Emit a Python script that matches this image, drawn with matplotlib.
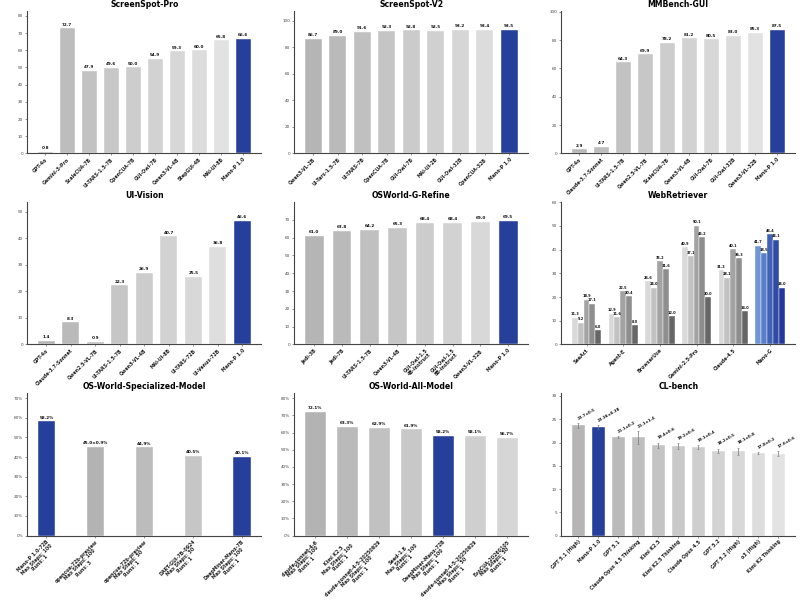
import numpy as np
import matplotlib
matplotlib.use("Agg")
import matplotlib.pyplot as plt
from matplotlib.ticker import FuncFormatter

# ---------------- data ----------------
sspro_labels = ["GPT-4o", "Gemini-3-Pro", "ScaleCUA-7B", "UI-TARS-1.5-7B", "OpenCUA-7B",
                "GUI-Owl-7B", "Qwen3-VL-4B", "StepGUI-4B", "MAI-UI-8B", "Mano-P 1.0"]
sspro_values = [0.8, 72.7, 47.9, 49.6, 50.0, 54.9, 59.3, 60.0, 65.8, 66.6]

ssv2_labels = ["Qwen3-VL-2B", "UI-Tars-1.5-7B", "UI-TARS-7B", "OpenCUA-7B", "GUI-Owl-7B",
               "MAI-UI-2B", "GUI-Owl-32B", "OpenCUA-32B", "Mano-P 1.0"]
ssv2_values = [86.7, 89.0, 91.6, 92.3, 92.8, 92.5, 93.2, 93.4, 93.5]

mmb_labels = ["GPT-4o", "Claude-3.7-Sonnet", "UI-TARS-1.5-7B", "Qwen2.5-VL-7B", "ScaleCUA-7B",
              "Qwen3-VL-4B", "GUI-Owl-7B", "GUI-Owl-32B", "Qwen3-VL-32B", "Mano-P 1.0"]
mmb_values = [2.9, 4.7, 64.3, 69.9, 78.2, 81.2, 80.5, 83.0, 85.3, 87.5]

uiv_labels = ["GPT-4o", "Claude-3.7-Sonnet", "Qwen2.5-VL-7B", "UI-TARS-1.5-7B", "Qwen3-VL-4B",
              "MAI-UI-8B", "UI-TARS-72B", "UI-Venus-72B", "Mano-P 1.0"]
uiv_values = [1.4, 8.3, 0.9, 22.3, 26.9, 40.7, 25.5, 36.8, 46.6]

osg_labels = ["Jedi-3B", "Jedi-7B", "UI-TARS-1.5-7B", "Qwen3-VL-4B", "GUI-Owl-1.5\n4B-Instruct",
              "GUI-Owl-1.5\n8B-Instruct", "Qwen3-VL-32B", "Mano-P 1.0"]
osg_values = [61.0, 63.8, 64.2, 65.3, 68.4, 68.4, 69.0, 69.5]

web_groups = ["SeeAct", "Agent-E", "BrowserUse", "Gemini-2.5-Pro", "Claude-4.5", "Mano-G"]
web_s1 = [11.3, 12.9, 26.6, 40.9, 31.3, 41.7]
web_s2 = [9.2, 11.6, 24.0, 37.1, 28.1, 38.5]
web_s3 = [18.9, 22.5, 35.2, 50.1, 40.1, 46.4]
web_s4 = [17.1, 20.4, 31.6, 45.2, 36.3, 44.1]
web_s5 = [6.0, 8.0, 12.0, 20.0, 14.0, 24.0]

spec_labels = ["Mano-P 1.0-72B\nMax Steps: 100\nRuns: 1",
               "opencua-72b-preview\nMax Steps: 100\nRuns: 3",
               "opencua-72b-preview\nMax Steps: 50\nRuns: 1",
               "DART-GUI-7B-0924\nMax Steps: 30\nRuns: 1",
               "DeepMiner-Mano-7B\nMax Steps: 100\nRuns: 1"]
spec_values = [58.2, 45.0, 44.9, 40.5, 40.1]
spec_text = ["58.2%", "45.0±0.9%", "44.9%", "40.5%", "40.1%"]

all_labels = ["claude-sonnet-4-6\nMax Steps: 100\nRuns: 1",
              "Kimi K2.5\nMax Steps: 100\nRuns: 1",
              "claude-sonnet-4-5-20250929\nMax Steps: 100\nRuns: 1",
              "Seed-1.8\nMax Steps: 100\nRuns: 1",
              "DeepMiner-Mano-72B\nMax Steps: 100\nRuns: 1",
              "claude-sonnet-4-5-20250929\nMax Steps: 50\nRuns: 1",
              "EvoCUA-20260105\nMax Steps: 50\nRuns: 1"]
all_values = [72.1, 63.3, 62.9, 61.9, 58.2, 58.1, 56.7]

cl_labels = ["GPT 5.1 (High)", "Mano-P 1.0", "GPT 5.1", "Claude Opus 4.5 Thinking", "Kimi K2.5",
             "Kimi K2.5 Thinking", "Claude Opus 4.5", "GPT 5.2", "GPT 5.2 (High)", "o3 (High)",
             "Kimi K2 Thinking"]
cl_values = [23.7, 23.36, 21.1, 21.1, 19.4, 19.2, 19.1, 18.2, 18.1, 17.8, 17.6]
cl_errors = [0.5, 0.38, 0.2, 1.4, 0.6, 0.6, 0.4, 0.5, 0.8, 0.2, 0.6]
cl_text = ["23.7±0.5", "23.36±0.38", "21.1±0.2", "21.1±1.4", "19.4±0.6", "19.2±0.6",
           "19.1±0.4", "18.2±0.5", "18.1±0.8", "17.8±0.2", "17.6±0.6"]

# ---------------- style ----------------
BLUE = "#253F9B"
TITLE_FS = 5.6
TICK_FS = 3.0
XT_FS = 3.4
VAL_FS = 3.0


def greys(n, start, end):
    vals = np.linspace(start, end, n)
    return ["#%02x%02x%02x" % (int(v), int(v), int(v)) for v in vals]


def colors_with_blue(n, blue_idx, start, end):
    g = greys(n - len(blue_idx), start, end)
    out, k = [], 0
    for i in range(n):
        if i in blue_idx:
            out.append(BLUE)
        else:
            out.append(g[k]); k += 1
    return out


def style_ax(ax, title):
    ax.set_title(title, fontsize=TITLE_FS, fontweight="bold", pad=3)
    for s in ["top", "right"]:
        ax.spines[s].set_visible(False)
    for s in ["left", "bottom"]:
        ax.spines[s].set_color("#444444")
        ax.spines[s].set_linewidth(0.8)
    ax.tick_params(axis="y", labelsize=TICK_FS, colors="#444444", length=1.5, width=0.4, pad=1.5)
    ax.tick_params(axis="x", labelsize=XT_FS, colors="#444444", length=1.5, width=0.4, pad=1)


def set_xlabels(ax, x, labels, rot=45):
    ax.set_xticks(x)
    ax.set_xticklabels(labels, rotation=rot, ha="right", rotation_mode="anchor",
                       fontweight="bold", color="#222222", fontsize=XT_FS,
                       multialignment="center", linespacing=1.0)


def simple_panel(ax, title, labels, values, colors, ylim, yticks, width=0.68,
                 texts=None, pct=False):
    x = np.arange(len(values))
    ax.bar(x, values, width=width, color=colors, edgecolor="white", linewidth=0.3)
    style_ax(ax, title)
    set_xlabels(ax, x, labels)
    ax.set_ylim(0, ylim)
    ax.set_yticks(yticks)
    if pct:
        ax.yaxis.set_major_formatter(FuncFormatter(lambda v, p: f"{v:.0f}%"))
    off = ylim * 0.012
    for i, v in enumerate(values):
        t = texts[i] if texts is not None else (f"{v:.1f}%" if pct else f"{v:.1f}")
        ax.text(x[i], v + off, t, ha="center", va="bottom", fontsize=VAL_FS,
                fontweight="bold", color="#111111")


fig, axes = plt.subplots(3, 3, figsize=(8.0, 6.1), dpi=100)
fig.subplots_adjust(left=0.034, right=0.994, top=0.982, bottom=0.122,
                    wspace=0.141, hspace=0.342)

simple_panel(axes[0, 0], "ScreenSpot-Pro", sspro_labels, sspro_values,
             colors_with_blue(10, [9], 0xb8, 0xe2), 72.7 * 1.14, np.arange(0, 81, 10))
simple_panel(axes[0, 1], "ScreenSpot-V2", ssv2_labels, ssv2_values,
             colors_with_blue(9, [8], 0xb5, 0xdc), 93.5 * 1.15, np.arange(0, 101, 20))
simple_panel(axes[0, 2], "MMBench-GUI", mmb_labels, mmb_values,
             colors_with_blue(10, [9], 0xb8, 0xe2), 87.5 * 1.15, np.arange(0, 101, 20))
simple_panel(axes[1, 0], "UI-Vision", uiv_labels, uiv_values,
             colors_with_blue(9, [8], 0xb5, 0xde), 46.6 * 1.15, np.arange(0, 51, 10))
simple_panel(axes[1, 1], "OSWorld-G-Refine", osg_labels, osg_values,
             colors_with_blue(8, [7], 0xb5, 0xd8), 69.5 * 1.15, np.arange(0, 71, 10))

# WebRetriever grouped
ax = axes[1, 2]
series = [web_s1, web_s2, web_s3, web_s4, web_s5]
grey_cols = ["#d9d9d9", "#c2c2c2", "#a3a3a3", "#8e8e8e", "#666666"]
blue_cols = ["#7096d8", "#5a7ec8", "#3f62b6", "#2f4ba4", "#23389a"]
bw = 0.16
xg = np.arange(len(web_groups))
for k, s in enumerate(series):
    pos = xg + (k - 2) * bw
    cols = [blue_cols[k] if g == "Mano-G" else grey_cols[k] for g in web_groups]
    ax.bar(pos, s, width=bw, color=cols, edgecolor="white", linewidth=0.3)
    for p, v in zip(pos, s):
        ax.text(p, v + 0.6, f"{v:.1f}", ha="center", va="bottom", fontsize=2.5,
                fontweight="bold", color="#111111")
style_ax(ax, "WebRetriever")
set_xlabels(ax, xg, web_groups)
ax.set_ylim(0, 60)
ax.set_yticks(np.arange(0, 61, 10))

simple_panel(axes[2, 0], "OS-World-Specialized-Model", spec_labels, spec_values,
             colors_with_blue(5, [0, 4], 0xb3, 0xc6), 72.5, np.arange(0, 71, 10),
             width=0.35, texts=spec_text, pct=True)
simple_panel(axes[2, 1], "OS-World-All-Model", all_labels, all_values,
             colors_with_blue(7, [4], 0xb3, 0xd6), 72.1 * 1.15, np.arange(0, 81, 10),
             width=0.65, pct=True)

# CL-bench with error bars
ax = axes[2, 2]
x = np.arange(len(cl_values))
cols = colors_with_blue(11, [1], 0xb5, 0xe3)
ax.bar(x, cl_values, width=0.65, color=cols, edgecolor="white", linewidth=0.3,
       yerr=cl_errors, error_kw=dict(ecolor="#777777", elinewidth=0.5, capsize=1.0, capthick=0.4))
style_ax(ax, "CL-bench")
set_xlabels(ax, x, cl_labels)
ax.set_ylim(0, 30.6)
ax.set_yticks(np.arange(0, 31, 5))
for i, (v, e) in enumerate(zip(cl_values, cl_errors)):
    ax.text(x[i] + 0.05, v + e + 0.5, cl_text[i], ha="left", va="bottom", rotation=30,
            rotation_mode="anchor", fontsize=2.8, fontweight="bold", color="#111111")

fig.savefig("out.png", dpi=100)
